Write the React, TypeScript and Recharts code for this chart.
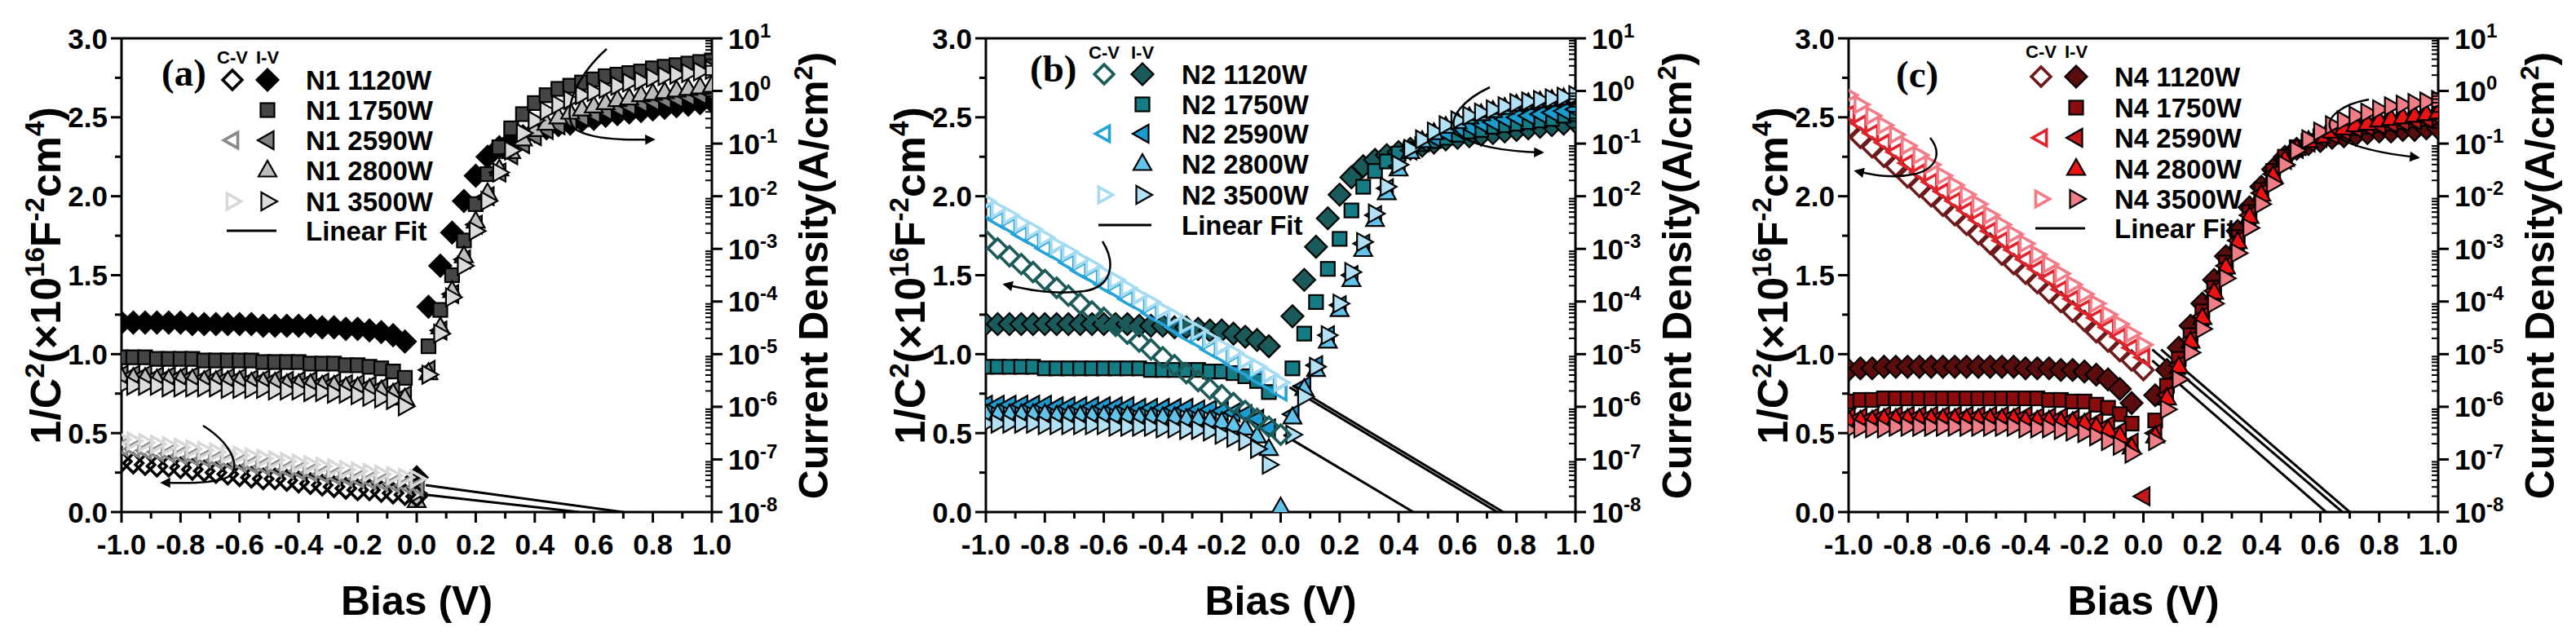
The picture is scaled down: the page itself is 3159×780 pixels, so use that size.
import React from 'react';
import { ComposedChart, Scatter, Line, XAxis, YAxis, ReferenceLine } from 'recharts';

const FONT = '"Liberation Sans", Arial, Helvetica, sans-serif';
const SERIF = '"Liberation Serif", "Times New Roman", serif';

// Bias voltage grid (V)
const BIAS = [-1.0,-0.96,-0.92,-0.88,-0.84,-0.8,-0.76,-0.72,-0.68,-0.64,-0.6,-0.56,-0.52,-0.48,-0.44,-0.4,-0.36,-0.32,-0.28,-0.24,-0.2,-0.16,-0.12,-0.08,-0.04,0.0,0.04,0.08,0.12,0.16,0.2,0.24,0.28,0.32,0.36,0.4,0.44,0.48,0.52,0.56,0.6,0.64,0.68,0.72,0.76,0.8,0.84,0.88,0.92,0.96,1.0];

const X_TICKS = [-1,-0.9,-0.8,-0.7,-0.6,-0.5,-0.4,-0.3,-0.2,-0.1,0,0.1,0.2,0.3,0.4,0.5,0.6,0.7,0.8,0.9,1];
const LEFT_TICKS = [0,0.25,0.5,0.75,1,1.25,1.5,1.75,2,2.25,2.5,2.75,3];
const RIGHT_DECADES = [-8,-7,-6,-5,-4,-3,-2,-1,0,1];
const RIGHT_MANTISSA = [1,2,3,4,5,6,7,8,9];

// ---------- Panel (a): I-V, log10 of current density (A/cm2) ----------
const N1_1120_IV = [-4.40,-4.40,-4.40,-4.40,-4.40,-4.40,-4.43,-4.43,-4.43,-4.43,-4.43,-4.43,-4.46,-4.46,-4.46,-4.46,-4.46,-4.49,-4.49,-4.52,-4.52,-4.55,-4.58,-4.64,-4.76,-7.34,-4.10,-3.32,-2.69,-2.09,-1.61,-1.25,-1.07,-0.95,-0.86,-0.77,-0.71,-0.65,-0.62,-0.56,-0.53,-0.47,-0.44,-0.41,-0.38,-0.35,-0.32,-0.29,-0.26,-0.23,-0.20];
const N1_1750_IV = [-5.06,-5.06,-5.06,-5.09,-5.09,-5.09,-5.09,-5.12,-5.12,-5.12,-5.12,-5.12,-5.15,-5.15,-5.15,-5.15,-5.18,-5.18,-5.18,-5.21,-5.21,-5.24,-5.27,-5.33,-5.45,-7.52,-4.85,-4.16,-3.50,-2.84,-2.15,-1.58,-1.07,-0.71,-0.44,-0.23,-0.08,0.04,0.10,0.16,0.22,0.28,0.31,0.34,0.37,0.43,0.46,0.49,0.52,0.55,0.58];
const N1_2590_IV = [-5.39,-5.39,-5.39,-5.42,-5.42,-5.42,-5.42,-5.45,-5.45,-5.45,-5.45,-5.48,-5.48,-5.48,-5.51,-5.51,-5.51,-5.54,-5.54,-5.57,-5.57,-5.60,-5.63,-5.69,-5.78,-7.61,-5.30,-4.55,-3.86,-3.20,-2.54,-2.00,-1.55,-1.22,-1.01,-0.86,-0.74,-0.65,-0.56,-0.50,-0.44,-0.38,-0.32,-0.29,-0.23,-0.20,-0.17,-0.14,-0.11,-0.08,-0.05];
const N1_2800_IV = [-5.45,-5.45,-5.45,-5.48,-5.48,-5.48,-5.48,-5.51,-5.51,-5.51,-5.51,-5.54,-5.54,-5.54,-5.57,-5.57,-5.57,-5.60,-5.60,-5.63,-5.63,-5.66,-5.69,-5.75,-5.84,-7.79,-5.36,-4.49,-3.80,-3.14,-2.48,-1.94,-1.49,-1.16,-0.92,-0.74,-0.62,-0.50,-0.41,-0.35,-0.29,-0.23,-0.17,-0.14,-0.08,-0.05,-0.02,0.01,0.04,0.07,0.10];
const N1_3500_IV = [-5.60,-5.60,-5.60,-5.60,-5.63,-5.63,-5.63,-5.63,-5.63,-5.66,-5.66,-5.66,-5.66,-5.69,-5.69,-5.69,-5.72,-5.72,-5.75,-5.75,-5.78,-5.81,-5.84,-5.87,-5.99,-7.64,-5.39,-4.61,-3.92,-3.32,-2.66,-2.09,-1.55,-1.13,-0.80,-0.56,-0.38,-0.26,-0.17,-0.08,-0.02,0.04,0.10,0.16,0.19,0.25,0.28,0.31,0.34,0.37,0.40];
// Panel (a): C-V, 1/C^2 (x1e16 F^-2 cm^4), bias -1.0 .. 0.0
const N1_1120_CV = [0.32,0.31,0.30,0.29,0.29,0.28,0.27,0.26,0.25,0.24,0.23,0.22,0.21,0.21,0.20,0.19,0.18,0.17,0.16,0.15,0.14,0.14,0.13,0.12,0.11,0.10];
const N1_2590_CV = [0.41,0.40,0.39,0.38,0.37,0.36,0.35,0.34,0.33,0.32,0.31,0.30,0.29,0.28,0.27,0.26,0.25,0.24,0.23,0.22,0.21,0.20,0.19,0.18,0.17,0.16];
const N1_3500_CV = [0.46,0.45,0.44,0.43,0.42,0.41,0.40,0.39,0.38,0.37,0.36,0.35,0.34,0.33,0.32,0.31,0.30,0.29,0.28,0.27,0.26,0.25,0.24,0.23,0.22,0.21];
const FIT_A1_X = [0.03, 0.70]; const FIT_A1_Y = [0.17, 0];
const FIT_A2_X = [0.03, 0.55]; const FIT_A2_Y = [0.11, 0];

// ---------- Panel (b) ----------
const N2_1120_IV = [-4.43,-4.43,-4.43,-4.43,-4.43,-4.43,-4.43,-4.43,-4.43,-4.43,-4.43,-4.43,-4.43,-4.46,-4.46,-4.46,-4.49,-4.49,-4.52,-4.55,-4.55,-4.61,-4.67,-4.73,-4.85,null,-4.28,-3.59,-2.96,-2.42,-1.97,-1.64,-1.43,-1.31,-1.22,-1.16,-1.10,-1.04,-0.98,-0.92,-0.89,-0.86,-0.83,-0.80,-0.77,-0.74,-0.71,-0.68,-0.65,-0.62,-0.59];
const N2_1750_IV = [-5.24,-5.24,-5.24,-5.24,-5.24,-5.27,-5.27,-5.27,-5.27,-5.27,-5.27,-5.27,-5.27,-5.27,-5.30,-5.30,-5.30,-5.30,-5.30,-5.33,-5.33,-5.36,-5.42,-5.51,-5.72,null,-5.27,-4.61,-4.01,-3.38,-2.81,-2.27,-1.82,-1.52,-1.34,-1.19,-1.10,-1.01,-0.95,-0.89,-0.83,-0.77,-0.74,-0.68,-0.65,-0.62,-0.59,-0.56,-0.53,-0.47,-0.44];
const N2_2590_IV = [-5.96,-5.96,-5.96,-5.96,-5.96,-5.96,-5.99,-5.99,-5.99,-5.99,-5.99,-5.99,-5.99,-6.02,-6.02,-6.02,-6.02,-6.02,-6.05,-6.05,-6.08,-6.11,-6.14,-6.23,-6.41,null,-6.14,-5.60,-5.21,-4.64,-4.07,-3.50,-2.90,-2.36,-1.85,-1.43,-1.13,-0.98,-0.89,-0.80,-0.74,-0.68,-0.62,-0.59,-0.53,-0.50,-0.47,-0.44,-0.41,-0.38,-0.35];
const N2_2800_IV = [-6.14,-6.14,-6.14,-6.14,-6.14,-6.14,-6.17,-6.17,-6.17,-6.17,-6.17,-6.17,-6.17,-6.20,-6.20,-6.20,-6.20,-6.23,-6.23,-6.26,-6.29,-6.35,-6.41,-6.56,-6.80,-7.91,-6.20,-5.66,-5.30,-4.76,-4.16,-3.59,-3.02,-2.45,-1.94,-1.49,-1.16,-0.95,-0.80,-0.68,-0.59,-0.50,-0.44,-0.38,-0.32,-0.26,-0.23,-0.20,-0.17,-0.14,-0.11];
const N2_3500_IV = [-6.32,-6.32,-6.32,-6.32,-6.32,-6.35,-6.35,-6.35,-6.35,-6.35,-6.35,-6.38,-6.38,-6.38,-6.38,-6.41,-6.41,-6.44,-6.44,-6.47,-6.53,-6.59,-6.65,-6.80,-7.10,null,-6.53,-5.81,-5.24,-4.64,-4.04,-3.44,-2.87,-2.33,-1.82,-1.40,-1.10,-0.92,-0.77,-0.65,-0.56,-0.47,-0.41,-0.35,-0.29,-0.23,-0.20,-0.17,-0.14,-0.11,-0.08];
const N2_1120_CV = [1.72,1.67,1.62,1.57,1.52,1.47,1.42,1.37,1.32,1.27,1.23,1.18,1.13,1.08,1.03,0.98,0.93,0.88,0.83,0.78,0.74,0.69,0.64,0.59,0.54,0.49];
const N2_2590_CV = [1.90,1.85,1.81,1.76,1.72,1.67,1.63,1.58,1.53,1.49,1.44,1.40,1.35,1.31,1.26,1.22,1.17,1.12,1.08,1.03,0.99,0.94,0.90,0.85,0.81,0.76];
const N2_3500_CV = [1.97,1.92,1.88,1.83,1.79,1.74,1.69,1.65,1.60,1.56,1.51,1.47,1.42,1.37,1.33,1.28,1.24,1.19,1.15,1.10,1.05,1.01,0.96,0.92,0.87,0.82];
const FIT_B1_X = [0.01, 0.45]; const FIT_B1_Y = [0.49, 0];
const FIT_B2_X = [0.03, 0.735]; const FIT_B2_Y = [0.79, 0];
const FIT_B3_X = [0.04, 0.755]; const FIT_B3_Y = [0.80, 0];

// ---------- Panel (c) ----------
const N4_1120_IV = [-5.30,-5.27,-5.27,-5.24,-5.24,-5.24,-5.24,-5.24,-5.24,-5.24,-5.24,-5.24,-5.24,-5.24,-5.24,-5.27,-5.27,-5.27,-5.30,-5.30,-5.33,-5.39,-5.48,-5.66,-5.93,null,-5.78,-5.30,-4.88,-4.46,-4.04,-3.59,-3.14,-2.66,-2.21,-1.82,-1.49,-1.25,-1.10,-1.01,-0.95,-0.89,-0.86,-0.83,-0.80,-0.77,-0.77,-0.74,-0.74,-0.71,-0.71];
const N4_1750_IV = [-5.90,-5.87,-5.87,-5.84,-5.84,-5.84,-5.84,-5.84,-5.84,-5.84,-5.84,-5.84,-5.84,-5.84,-5.84,-5.84,-5.84,-5.87,-5.87,-5.90,-5.90,-5.96,-6.02,-6.14,-6.32,null,-6.26,-5.60,-5.09,-4.64,-4.19,-3.74,-3.26,-2.78,-2.30,-1.88,-1.52,-1.25,-1.07,-0.95,-0.86,-0.80,-0.74,-0.71,-0.68,-0.65,-0.62,-0.59,-0.56,-0.53,-0.50];
const N4_2590_IV = [-6.20,-6.20,-6.20,-6.17,-6.17,-6.17,-6.17,-6.17,-6.17,-6.17,-6.17,-6.17,-6.17,-6.17,-6.17,-6.17,-6.20,-6.20,-6.20,-6.23,-6.26,-6.29,-6.35,-6.47,-6.68,-7.70,-6.50,-5.78,-5.21,-4.73,-4.28,-3.80,-3.32,-2.84,-2.36,-1.94,-1.58,-1.31,-1.10,-0.98,-0.89,-0.83,-0.77,-0.71,-0.68,-0.65,-0.62,-0.59,-0.56,-0.53,-0.50];
const N4_2800_IV = [-6.26,-6.26,-6.26,-6.23,-6.23,-6.23,-6.23,-6.23,-6.23,-6.23,-6.23,-6.23,-6.23,-6.23,-6.23,-6.26,-6.26,-6.26,-6.29,-6.29,-6.32,-6.38,-6.44,-6.56,-6.77,null,-6.56,-5.84,-5.24,-4.76,-4.31,-3.83,-3.35,-2.87,-2.39,-1.97,-1.61,-1.31,-1.10,-0.95,-0.86,-0.77,-0.71,-0.65,-0.62,-0.56,-0.53,-0.50,-0.47,-0.44,-0.41];
const N4_3500_IV = [-6.44,-6.41,-6.41,-6.41,-6.38,-6.38,-6.38,-6.38,-6.38,-6.38,-6.38,-6.38,-6.38,-6.38,-6.38,-6.41,-6.41,-6.41,-6.44,-6.47,-6.50,-6.56,-6.65,-6.74,-6.89,null,-6.65,-6.05,-5.48,-4.97,-4.52,-4.04,-3.56,-3.08,-2.60,-2.15,-1.76,-1.40,-1.13,-0.92,-0.77,-0.65,-0.56,-0.47,-0.41,-0.35,-0.29,-0.26,-0.23,-0.20,-0.17];
const N4_1120_CV = [2.43,2.37,2.31,2.25,2.19,2.12,2.06,2.00,1.94,1.88,1.82,1.76,1.70,1.63,1.57,1.51,1.45,1.39,1.33,1.27,1.21,1.14,1.08,1.02,0.96,0.90];
const N4_2590_CV = [2.52,2.46,2.40,2.34,2.28,2.21,2.15,2.09,2.03,1.97,1.91,1.85,1.78,1.72,1.66,1.60,1.54,1.48,1.41,1.35,1.29,1.23,1.17,1.11,1.04,0.98];
const N4_3500_CV = [2.64,2.58,2.51,2.45,2.39,2.32,2.26,2.20,2.13,2.07,2.01,1.95,1.88,1.82,1.76,1.70,1.63,1.57,1.51,1.44,1.38,1.32,1.25,1.19,1.13,1.06];
const FIT_C1_X = [0.03, 0.62]; const FIT_C1_Y = [0.96, 0];
const FIT_C2_X = [0.03, 0.675]; const FIT_C2_Y = [1.03, 0];
const FIT_C3_X = [0.06, 0.70]; const FIT_C3_Y = [1.03, 0];

const LABELS_A = ['N1 1120W', 'N1 1750W', 'N1 2590W', 'N1 2800W', 'N1 3500W', 'Linear Fit'];
const LABELS_B = ['N2 1120W', 'N2 1750W', 'N2 2590W', 'N2 2800W', 'N2 3500W', 'Linear Fit'];
const LABELS_C = ['N4 1120W', 'N4 1750W', 'N4 2590W', 'N4 2800W', 'N4 3500W', 'Linear Fit'];

const COLORS_A = { iv: ['#000000', '#454545', '#7f7f7f', '#bdbdbd', '#dcdcdc'], cv: ['#000000', '#888888', '#d8d8d8'] };
const COLORS_B = { iv: ['#1b5a5a', '#157c86', '#1c9bd0', '#62c3ea', '#b2e0f4'], cv: ['#1d5a5a', '#25a3d8', '#a6dcf2'] };
const COLORS_C = { iv: ['#5a0d0d', '#8a0c0c', '#c4191b', '#ee1212', '#f07e87'], cv: ['#6e1a1a', '#e3232b', '#f47b86'] };

const IV_KINDS = ['diamond', 'square', 'tleft', 'tup', 'tright'];
const CV_KINDS = ['diamond', 'tleft', 'tright'];

const RIGHT_TICKS: number[] = [];
RIGHT_DECADES.forEach((d) => {
  RIGHT_MANTISSA.forEach((m) => {
    if (d === 1 && m > 1) return;
    RIGHT_TICKS.push(m * Math.pow(10, d));
  });
});

function ivPoints(arr: (number | null)[]) {
  const out: { x: number; y: number }[] = [];
  arr.forEach((e, i) => {
    if (e !== null && e !== undefined) out.push({ x: BIAS[i], y: Math.pow(10, e) });
  });
  return out;
}
function cvPoints(arr: number[]) {
  return arr.map((v, i) => ({ x: BIAS[i], y: v }));
}
function fitPoints(xs: number[], ys: number[]) {
  return xs.map((x, i) => ({ x, y: ys[i] }));
}

function Marker({ cx, cy, kind, color, open }: any) {
  if (cx == null || cy == null || isNaN(cx) || isNaN(cy)) return null;
  const sw = open ? 3.6 : 2.2;
  const stroke = open ? color : '#000';
  const fill = open ? 'none' : color;
  const s = open ? 0.88 : 1;
  const common = { fill, stroke, strokeWidth: sw, strokeLinejoin: 'miter' as const };
  if (kind === 'diamond') {
    const r = 13.5 * s;
    return <polygon points={`${cx},${cy - r} ${cx + r},${cy} ${cx},${cy + r} ${cx - r},${cy}`} {...common} />;
  }
  if (kind === 'square') {
    const h = 8.5;
    return <rect x={cx - h} y={cy - h} width={2 * h} height={2 * h} {...common} />;
  }
  const a = 12 * s, b = 11 * s, c = 7.5 * s;
  if (kind === 'tup') return <polygon points={`${cx},${cy - a} ${cx + b},${cy + c} ${cx - b},${cy + c}`} {...common} />;
  if (kind === 'tleft') return <polygon points={`${cx - a},${cy} ${cx + c},${cy - b} ${cx + c},${cy + b}`} {...common} />;
  return <polygon points={`${cx + a},${cy} ${cx - c},${cy - b} ${cx - c},${cy + b}`} {...common} />;
}

const XTick = (p: any) => {
  const v = Number(p.payload.value);
  const major = Math.abs(v * 5 - Math.round(v * 5)) < 1e-6;
  return (
    <g>
      <line x1={p.x} x2={p.x} y1={p.y} y2={p.y + (major ? 13 : 8)} stroke="#000" strokeWidth={3} />
      {major && (
        <text x={p.x} y={p.y + 52} textAnchor="middle" fontFamily={FONT} fontWeight="bold" fontSize={35} fill="#000">
          {v.toFixed(1)}
        </text>
      )}
    </g>
  );
};

const LeftTick = (p: any) => {
  const v = Number(p.payload.value);
  const major = Math.abs(v * 2 - Math.round(v * 2)) < 1e-6;
  return (
    <g>
      <line x1={p.x - (major ? 13 : 8)} x2={p.x} y1={p.y} y2={p.y} stroke="#000" strokeWidth={3} />
      {major && (
        <text x={p.x - 17} y={p.y + 12.5} textAnchor="end" fontFamily={FONT} fontWeight="bold" fontSize={35} fill="#000">
          {v.toFixed(1)}
        </text>
      )}
    </g>
  );
};

const RightTick = (p: any) => {
  const v = Number(p.payload.value);
  const lg = Math.log10(v);
  const n = Math.round(lg);
  const major = Math.abs(lg - n) < 1e-6;
  if (!major) return <line x1={p.x - 8} x2={p.x} y1={p.y} y2={p.y} stroke="#000" strokeWidth={2} />;
  return (
    <g>
      <line x1={p.x} x2={p.x + 13} y1={p.y} y2={p.y} stroke="#000" strokeWidth={3} />
      <text x={p.x + 20} y={p.y + 12.5} fontFamily={FONT} fontWeight="bold" fontSize={35} fill="#000">
        10<tspan dy={-14} fontSize={24}>{String(n)}</tspan>
      </text>
    </g>
  );
};

function Panel({ left, width, rightW, iv, cv, fits, colors }: any) {
  return (
    <div style={{ position: 'absolute', left, top: 0, width, height: 780 }}>
      <ComposedChart width={width} height={780} margin={{ top: 47, right: 0, bottom: 0, left: 0 }}>
        <XAxis type="number" dataKey="x" domain={[-1, 1]} ticks={X_TICKS} interval={0} height={152}
          tickSize={0} tickMargin={0} tick={XTick} tickLine={false} allowDataOverflow
          axisLine={{ stroke: '#000', strokeWidth: 3 }} />
        <YAxis yAxisId="L" orientation="left" type="number" dataKey="y" domain={[0, 3]} ticks={LEFT_TICKS}
          interval={0} width={149} tickSize={0} tickMargin={0} tick={LeftTick} tickLine={false} allowDataOverflow
          axisLine={{ stroke: '#000', strokeWidth: 3 }} />
        <YAxis yAxisId="R" orientation="right" type="number" dataKey="y" scale="log" domain={[1e-8, 10]}
          ticks={RIGHT_TICKS} interval={0} width={rightW} tickSize={0} tickMargin={0} tick={RightTick}
          tickLine={false} allowDataOverflow axisLine={{ stroke: '#000', strokeWidth: 3 }} />
        <ReferenceLine yAxisId="L" y={3} stroke="#000" strokeWidth={3} />
        {iv.map((arr: any, i: number) => (
          <Scatter key={'iv' + i} yAxisId="R" data={ivPoints(arr)} isAnimationActive={false}
            shape={(p: any) => <Marker cx={p.cx} cy={p.cy} kind={IV_KINDS[i]} color={colors.iv[i]} open={false} />} />
        ))}
        {cv.map((arr: any, i: number) => (
          <Scatter key={'cv' + i} yAxisId="L" data={cvPoints(arr)} isAnimationActive={false}
            shape={(p: any) => <Marker cx={p.cx} cy={p.cy} kind={CV_KINDS[i]} color={colors.cv[i]} open={true} />} />
        ))}
        {fits.map((f: any, i: number) => (
          <Line key={'fit' + i} yAxisId="L" data={f} dataKey="y" type="linear" stroke="#000" strokeWidth={3}
            dot={false} activeDot={false} isAnimationActive={false} />
        ))}
      </ComposedChart>
    </div>
  );
}

function Legend({ tag, tagX, tagY, cvX, ivX, textX, rows, cvY, labels, colors }: any) {
  const hasCV = [0, -1, 1, -1, 2];
  return (
    <g>
      <text x={tagX} y={tagY} fontFamily={SERIF} fontWeight="bold" fontSize={47} fill="#000">{tag}</text>
      <text x={cvX} y={cvY} textAnchor="middle" fontFamily={FONT} fontWeight="bold" fontSize={22} fill="#000">C-V</text>
      <text x={ivX} y={cvY} textAnchor="middle" fontFamily={FONT} fontWeight="bold" fontSize={22} fill="#000">I-V</text>
      {IV_KINDS.map((k, i) => (
        <g key={k}>
          {hasCV[i] >= 0 && <Marker cx={cvX} cy={rows[i]} kind={CV_KINDS[hasCV[i]]} color={colors.cv[hasCV[i]]} open={true} />}
          <Marker cx={ivX} cy={rows[i]} kind={k} color={colors.iv[i]} open={false} />
        </g>
      ))}
      <line x1={cvX - 7} x2={ivX + 11} y1={rows[5]} y2={rows[5]} stroke="#000" strokeWidth={3} />
      {labels.map((l: string, i: number) => (
        <text key={l} x={textX} y={rows[i] + 12} fontFamily={FONT} fontWeight="bold" fontSize={33} fill="#000">{l}</text>
      ))}
    </g>
  );
}

function LeftTitle({ x, y }: any) {
  return (
    <text transform={`translate(${x},${y}) rotate(-90)`} textAnchor="middle" fontFamily={FONT} fontWeight="bold" fontSize={52} fill="#000">
      <tspan dy={18}>1/C</tspan>
      <tspan dy={-20} fontSize={33}>2</tspan>
      <tspan dy={20}>(×10</tspan>
      <tspan dy={-20} fontSize={33}>16</tspan>
      <tspan dy={20}>F</tspan>
      <tspan dy={-20} fontSize={33}>-2</tspan>
      <tspan dy={20}>cm</tspan>
      <tspan dy={-20} fontSize={33}>4</tspan>
      <tspan dy={20}>)</tspan>
    </text>
  );
}
function RightTitle({ x, y }: any) {
  return (
    <text transform={`translate(${x},${y}) rotate(-90)`} textAnchor="middle" fontFamily={FONT} fontWeight="bold" fontSize={50} fill="#000">
      <tspan dy={18}>Current Density(A/cm</tspan>
      <tspan dy={-19} fontSize={32}>2</tspan>
      <tspan dy={19}>)</tspan>
    </text>
  );
}

export default function App() {
  const fitsA = [fitPoints(FIT_A1_X, FIT_A1_Y), fitPoints(FIT_A2_X, FIT_A2_Y)];
  const fitsB = [fitPoints(FIT_B1_X, FIT_B1_Y), fitPoints(FIT_B2_X, FIT_B2_Y), fitPoints(FIT_B3_X, FIT_B3_Y)];
  const fitsC = [fitPoints(FIT_C1_X, FIT_C1_Y), fitPoints(FIT_C2_X, FIT_C2_Y), fitPoints(FIT_C3_X, FIT_C3_Y)];
  const plots = [
    { l: 149, r: 873 },
    { l: 1209, r: 1932 },
    { l: 2267, r: 2990 },
  ];
  return (
    <div style={{ position: 'absolute', left: 0, top: 0, width: 3159, height: 780, background: '#fff', overflow: 'hidden' }}>
      <Panel left={0} width={1053} rightW={180} colors={COLORS_A}
        iv={[N1_1120_IV, N1_1750_IV, N1_2590_IV, N1_2800_IV, N1_3500_IV]}
        cv={[N1_1120_CV, N1_2590_CV, N1_3500_CV]} fits={fitsA} />
      <Panel left={1060} width={1052} rightW={180} colors={COLORS_B}
        iv={[N2_1120_IV, N2_1750_IV, N2_2590_IV, N2_2800_IV, N2_3500_IV]}
        cv={[N2_1120_CV, N2_2590_CV, N2_3500_CV]} fits={fitsB} />
      <Panel left={2118} width={1041} rightW={169} colors={COLORS_C}
        iv={[N4_1120_IV, N4_1750_IV, N4_2590_IV, N4_2800_IV, N4_3500_IV]}
        cv={[N4_1120_CV, N4_2590_CV, N4_3500_CV]} fits={fitsC} />
      <svg width={3159} height={780} style={{ position: 'absolute', left: 0, top: 0, pointerEvents: 'none' }}>
        <defs>
          <marker id="ah" viewBox="0 0 10 10" refX="7" refY="5" markerWidth="6" markerHeight="5" orient="auto">
            <path d="M0,0 L10,5 L0,10 z" fill="#000" />
          </marker>
        </defs>
        {plots.map((p, i) => (
          <g key={i}>
            <LeftTitle x={p.l - 93} y={338} />
            <RightTitle x={p.r + 124} y={338} />
            <text x={(p.l + p.r) / 2} y={754} textAnchor="middle" fontFamily={FONT} fontWeight="bold" fontSize={50} fill="#000">Bias (V)</text>
          </g>
        ))}
        <Legend tag="(a)" tagX={198} tagY={105} cvX={285} ivX={328} textX={375} cvY={78}
          rows={[98, 135, 172, 209, 247, 283]} labels={LABELS_A} colors={COLORS_A} />
        <Legend tag="(b)" tagX={1263} tagY={100} cvX={1354} ivX={1401} textX={1449} cvY={72}
          rows={[91, 128, 164, 201, 239, 276]} labels={LABELS_B} colors={COLORS_B} />
        <Legend tag="(c)" tagX={2325} tagY={107} cvX={2503} ivX={2546} textX={2593} cvY={71}
          rows={[94, 132, 169, 207, 244, 280]} labels={LABELS_C} colors={COLORS_C} />
        <g fill="none" stroke="#000" strokeWidth={2.5}>
          <path d="M744,60 C705,95 688,140 705,158 C725,172 770,172 800,171" markerEnd="url(#ah)" />
          <path d="M249,522 C285,545 300,578 275,587 C250,594 225,592 200,592" markerEnd="url(#ah)" />
          <path d="M1827,107 C1795,122 1775,145 1785,160 C1800,180 1850,186 1890,187" markerEnd="url(#ah)" />
          <path d="M1352,296 C1370,325 1362,352 1330,357 C1290,362 1260,355 1233,349" markerEnd="url(#ah)" />
          <path d="M2905,122 C2870,128 2852,145 2858,158 C2868,178 2920,188 2964,193" markerEnd="url(#ah)" />
          <path d="M2367,169 C2380,185 2378,205 2350,213 C2320,220 2295,214 2277,210" markerEnd="url(#ah)" />
        </g>
      </svg>
    </div>
  );
}
